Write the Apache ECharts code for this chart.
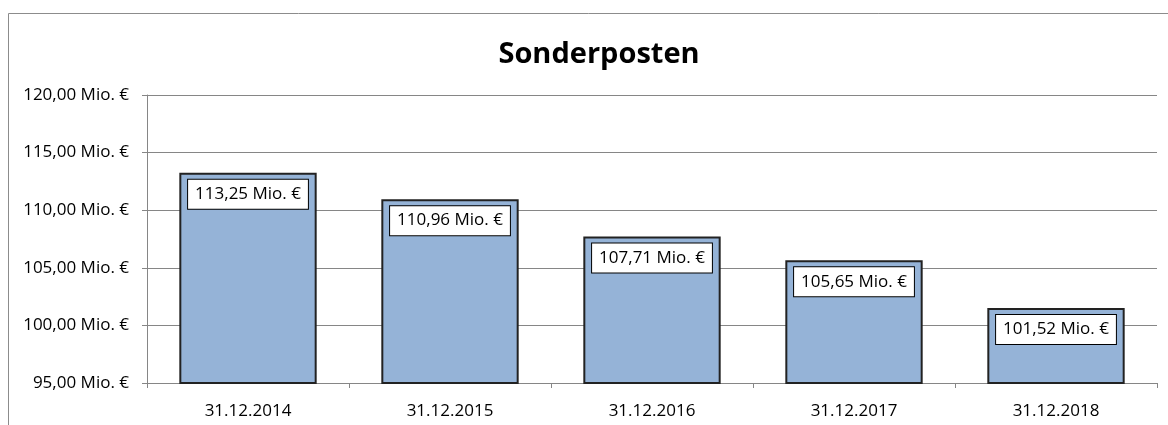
<!DOCTYPE html>
<html>
<head>
<meta charset="utf-8">
<script src="https://cdn.jsdelivr.net/npm/echarts@6/dist/echarts.min.js"></script>
<style>
html,body{margin:0;padding:0;background:#fff;}
#main{width:1168px;height:425px;}
</style>
</head>
<body>
<div id="main"></div>
<script>
const categories = ['31.12.2014','31.12.2015','31.12.2016','31.12.2017','31.12.2018'];
const values = [113.25, 110.96, 107.71, 105.65, 101.52];
const yMin = 95, yMax = 120, yStep = 5;
const titleText = 'Sonderposten';

const fmt = v => v.toFixed(2).replace('.', ',') + ' Mio. €';
const FONT = '"Open Sans", "Noto Sans", sans-serif';

const chart = echarts.init(document.getElementById('main'));
chart.setOption({
  animation: false,
  backgroundColor: '#fff',
  title: {
    text: titleText,
    left: 594, top: 35, textAlign: 'center',
    textStyle: {fontFamily: FONT, fontSize: 29, fontWeight: 'bold', color: '#000'}
  },
  graphic: [{
    type: 'rect', shape: {x: 8.5, y: 13.5, width: 1200, height: 500},
    style: {fill: 'none', stroke: '#8c8c8c', lineWidth: 1}, silent: true, z: -1
  }],
  grid: {left: 147, right: 11, top: 95, bottom: 42},
  xAxis: {
    type: 'category', data: categories,
    axisLine: {lineStyle: {color: '#868686', width: 1}},
    axisTick: {show: true, alignWithLabel: false, length: 5, lineStyle: {color: '#868686'}},
    axisLabel: {fontFamily: FONT, fontSize: 17, color: '#000', margin: 20}
  },
  yAxis: {
    type: 'value', min: yMin, max: yMax, interval: yStep,
    axisLine: {show: true, lineStyle: {color: '#868686'}},
    axisTick: {show: true, length: 5, lineStyle: {color: '#868686'}},
    splitLine: {lineStyle: {color: '#868686', width: 1}},
    axisLabel: {fontFamily: FONT, fontSize: 17, color: '#000', margin: 18, formatter: fmt}
  },
  series: [{
    type: 'bar', data: values, barWidth: '68%',
    itemStyle: {color: '#95B3D7', borderColor: '#222', borderWidth: 2},
    label: {
      show: true, position: 'insideTop', distance: 7,
      formatter: p => fmt(p.value),
      fontFamily: FONT, fontSize: 17, lineHeight: 19, color: '#000',
      backgroundColor: '#fff', borderColor: '#000', borderWidth: 1,
      padding: [5, 7, 5, 7]
    }
  }]
});
</script>
</body>
</html>
